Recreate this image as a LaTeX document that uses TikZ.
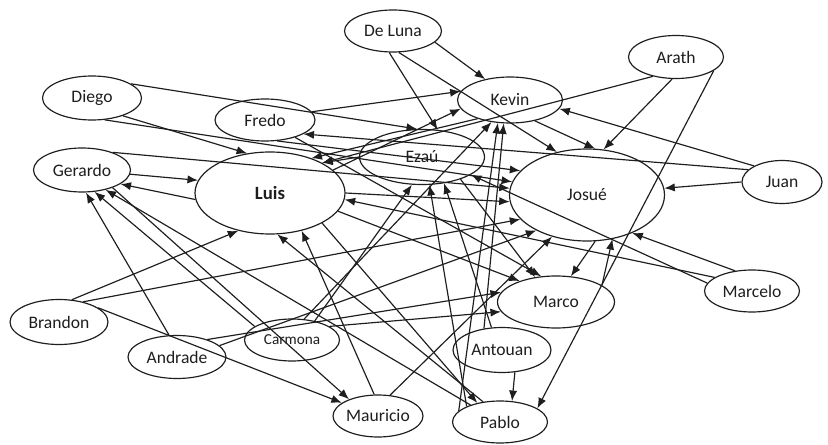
\documentclass[tikz,border=0pt]{standalone}
\usepackage{fontspec}
\setmainfont{Carlito}
\usetikzlibrary{arrows.meta,shapes.geometric}
\definecolor{ink}{HTML}{1E1E1E}

\begin{document}
\begin{tikzpicture}[x=0.3mm,y=-0.3mm,>={Latex[length=9pt,width=7pt]}]
  \tikzstyle{pers}=[ellipse,draw=ink,line width=1pt,fill=white,inner sep=0pt,font=\fontsize{15}{18}\selectfont,text=ink]
  \tikzstyle{tie}=[->,ink,line width=1pt]
  \useasboundingbox[fill=white] (0,0) rectangle (828,445);
  % people
  \node[pers,minimum width=29.1mm,minimum height=12.6mm] (deluna) at (393,31) {De Luna};
  \node[pers,minimum width=31.5mm,minimum height=13.8mm] (kevin) at (510,100) {Kevin};
  \node[pers,minimum width=28.5mm,minimum height=12.9mm] (arath) at (676,57) {Arath};
  \node[pers,minimum width=24mm,minimum height=12.9mm] (juan) at (782,182) {Juan};
  \node[pers,minimum width=29.7mm,minimum height=13.2mm] (diego) at (92,98) {Diego};
  \node[pers,minimum width=30mm,minimum height=12.6mm] (fredo) at (265,120) {Fredo};
  \node[pers,minimum width=29.1mm,minimum height=13.2mm] (gerardo) at (82,170) {Gerardo};
  \node[pers,minimum width=45mm,minimum height=24.6mm,font=\fontsize{16}{19}\selectfont\bfseries] (luis) at (270,193) {Luis};
  \node[pers,minimum width=37.5mm,minimum height=16.5mm] (ezau) at (422,157) {Ezaú};
  \node[pers,minimum width=46.5mm,minimum height=27.6mm] (josue) at (587,195) {Josué};
  \node[pers,minimum width=35.1mm,minimum height=15.6mm] (marco) at (556,302) {Marco};
  \node[pers,minimum width=28.5mm,minimum height=12.6mm] (marcelo) at (752,291) {Marcelo};
  \node[pers,minimum width=29.4mm,minimum height=13.5mm] (brandon) at (59,322) {Brandon};
  \node[pers,minimum width=29.4mm,minimum height=12.9mm] (andrade) at (177,357) {Andrade};
  \node[pers,minimum width=28.5mm,minimum height=12.6mm,font=\fontsize{13}{16}\selectfont] (carmona) at (292,340) {Carmona};
  \node[pers,minimum width=29.4mm,minimum height=13.5mm] (antouan) at (502,350) {Antouan};
  \node[pers,minimum width=27mm,minimum height=12.6mm] (mauricio) at (378,416) {Mauricio};
  \node[pers,minimum width=28.5mm,minimum height=12.6mm] (pablo) at (500,422) {Pablo};
  % ties
  \draw[tie] (deluna.-15) -- (kevin.140);
  \draw[tie] (deluna.-100) -- (ezau.60);
  \draw[tie] (deluna.-75) -- (josue.125);
  \draw[tie] (fredo.10) -- (kevin.170);
  \draw[tie] (fredo.-30) -- (marco.120);
  \draw[tie] (fredo.-60) -- (josue.160);
  \draw[tie] (diego.20) -- (ezau.100);
  \draw[tie] (diego.-30) -- (luis.120);
  \draw[tie] (diego.-60) -- (josue.170);
  \draw[tie] (gerardo.30) -- (josue.175);
  \draw[tie] (gerardo.-5) -- (luis.170);
  \draw[tie] (gerardo.-30) -- (mauricio.150);
  \draw[tie] (luis.185) -- (gerardo.-20);
  \draw[tie] (pablo.150) -- (gerardo.-40);
  \draw[tie] (andrade.110) -- (gerardo.-80);
  \draw[tie] (carmona.160) -- (gerardo.-60);
  \draw[tie] (brandon.60) -- (luis.-130);
  \draw[tie] (brandon.40) -- (josue.200);
  \draw[tie] (brandon.20) -- (mauricio.160);
  \draw[tie] (andrade.30) -- (marco.170);
  \draw[tie] (andrade.15) -- (josue.215);
  \draw[tie] (carmona.40) -- (ezau.-110);
  \draw[tie] (carmona.20) -- (marco.190);
  \draw[tie] (carmona.60) -- (kevin.-130);
  \draw[tie] (pablo.130) -- (luis.-80);
  \draw[tie] (mauricio.100) -- (luis.-50);
  \draw[tie] (mauricio.60) -- (josue.230);
  \draw[tie] (luis.-30) -- (pablo.140);
  \draw[tie] (luis.-15) -- (marco.150);
  \draw[tie] (luis.0) -- (josue.185);
  \draw[tie] (luis.20) -- (kevin.190);
  \draw[tie] (kevin.-150) -- (luis.40);
  \draw[tie] (ezau.180) -- (luis.30);
  \draw[tie] (ezau.-30) -- (marco.130);
  \draw[tie] (arath.-100) -- (josue.70);
  \draw[tie] (arath.-20) -- (pablo.20);
  \draw[tie] (arath.-140) -- (luis.30);
  \draw[tie] (juan.150) -- (kevin.-10);
  \draw[tie] (juan.160) -- (fredo.-20);
  \draw[tie] (juan.180) -- (josue.5);
  \draw[tie] (kevin.-40) -- (josue.80);
  \draw[tie] (marcelo.130) -- (josue.-40);
  \draw[tie] (marcelo.160) -- (luis.-5);
  \draw[tie] (marcelo.170) -- (ezau.-20);
  \draw[tie] (josue.-80) -- (marco.60);
  \draw[tie] (marco.20) -- (josue.-60);
  \draw[tie] (antouan.-60) -- (pablo.60);
  \draw[tie] (antouan.130) -- (kevin.-105);
  \draw[tie] (antouan.115) -- (ezau.-50);
  \draw[tie] (pablo.165) -- (kevin.-118);
  \draw[tie] (pablo.155) -- (ezau.-75);
\end{tikzpicture}
\end{document}
